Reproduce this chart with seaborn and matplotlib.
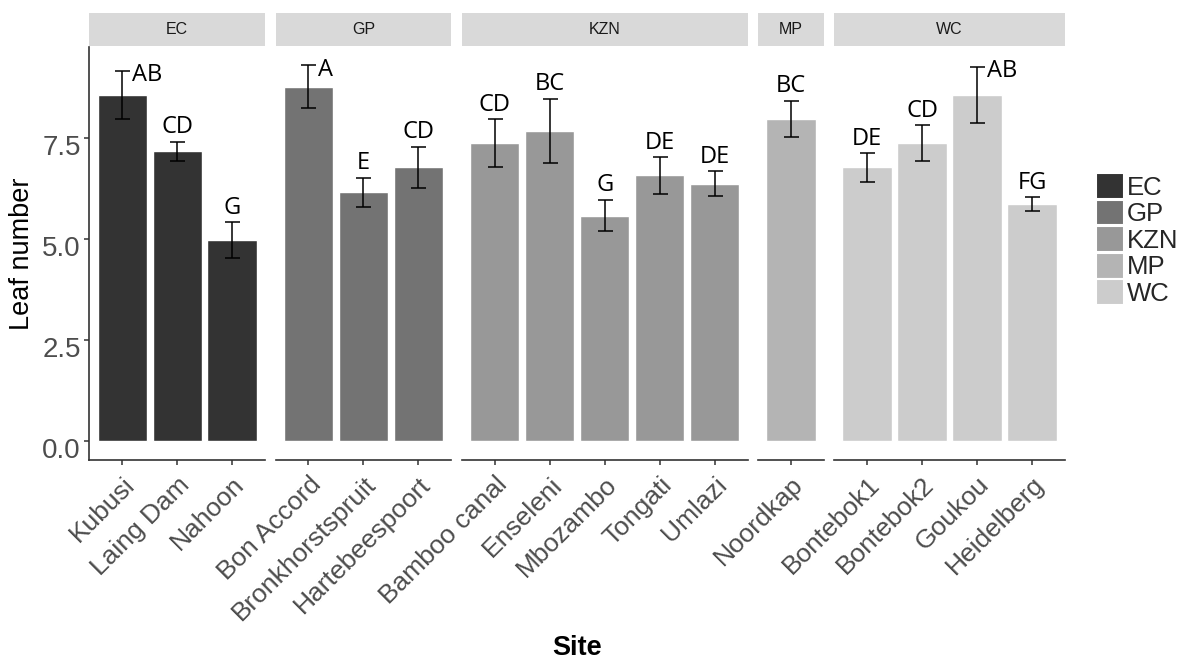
import numpy as np
import pandas as pd
import matplotlib
matplotlib.use("Agg")
import matplotlib.pyplot as plt
import matplotlib.transforms as mtransforms
from matplotlib.patches import Patch, Rectangle
import seaborn as sns

# ---- data -------------------------------------------------------------
regions = ["EC", "GP", "KZN", "MP", "WC"]
sites = ["Kubusi", "Laing Dam", "Nahoon",
         "Bon Accord", "Bronkhorstspruit", "Hartebeespoort",
         "Bamboo canal", "Enseleni", "Mbozambo", "Tongati", "Umlazi",
         "Noordkap",
         "Bontebok1", "Bontebok2", "Goukou", "Heidelberg"]
site_region = (["EC"] * 3 + ["GP"] * 3 + ["KZN"] * 5 + ["MP"] + ["WC"] * 4)
leaf_mean = [8.56, 7.17, 4.98,
             8.76, 6.16, 6.77,
             7.37, 7.67, 5.58, 6.57, 6.37,
             7.97,
             6.77, 7.37, 8.56, 5.87]
leaf_se = [0.60, 0.24, 0.44,
           0.53, 0.36, 0.51,
           0.60, 0.80, 0.39, 0.45, 0.30,
           0.45,
           0.36, 0.45, 0.70, 0.17]
letters = ["AB", "CD", "G",
           "A", "E", "CD",
           "CD", "BC", "G", "DE", "DE",
           "BC",
           "DE", "CD", "AB", "FG"]

df = pd.DataFrame({"site": sites, "region": site_region,
                   "leaf": leaf_mean, "se": leaf_se, "letter": letters})
df["upper"] = df["leaf"] + df["se"]

# grey fill scale (ggplot-style grey ramp, start 0.2 / end 0.8)
greys = ["#333333", "#737373", "#989898", "#B4B4B4", "#CCCCCC"]
pal = dict(zip(regions, greys))

# ---- style ------------------------------------------------------------
sns.set_style("white")
plt.rcParams["font.family"] = ["Liberation Sans", "DejaVu Sans"]
AX_COL = "#333333"
TICK_TXT = "#4D4D4D"

W, H = 1185, 661
fig = plt.figure(figsize=(W / 100, H / 100), dpi=100)

# panel geometry (pixels)
left_px, right_px = 89.3, 1065.0
top_px, bot_px = 46.7, 460.0
gap_px = 10.3
expand = 0.6
counts = [int((df["region"] == r).sum()) for r in regions]
units = [n - 1 + 2 * expand for n in counts]
unit_px = (right_px - left_px - gap_px * (len(regions) - 1)) / sum(units)

ymax = df["upper"].max()
lo, hi = -0.05 * ymax, ymax * 1.05
panel_h = bot_px - top_px
strip_h = 32.4 / panel_h
strip_gap = 1.0 / panel_h

x0 = left_px
for k, (reg, n, u) in enumerate(zip(regions, counts, units)):
    w = u * unit_px
    ax = fig.add_axes([x0 / W, 1 - bot_px / H, w / W, panel_h / H])
    x0 += w + gap_px
    sub = df[df["region"] == reg].reset_index(drop=True)

    sns.barplot(data=sub, x="site", y="leaf", color=pal[reg], saturation=1,
                width=0.9, errorbar=None, ax=ax)
    ax.errorbar(np.arange(n), sub["leaf"], yerr=sub["se"], fmt="none",
                ecolor="black", elinewidth=1.1, capsize=5.4, capthick=1.1,
                zorder=3)

    # significance letters: above the cap, or beside it when near the top
    for i, row in sub.iterrows():
        if row["upper"] > hi - 0.65:
            ax.annotate(row["letter"], (i, row["upper"]), xytext=(7.0, -7.5),
                        textcoords="offset points", ha="left", va="baseline",
                        fontsize=17, family="Open Sans", color="black",
                        annotation_clip=False)
        else:
            ax.annotate(row["letter"], (i, row["upper"]), xytext=(0, 6.0),
                        textcoords="offset points", ha="center",
                        va="baseline", fontsize=17, family="Open Sans",
                        color="black", annotation_clip=False)

    ax.set_xlim(-expand, n - 1 + expand)
    ax.set_ylim(lo, hi)
    ax.set_xlabel("")
    ax.set_ylabel("")
    ax.set_xticks(np.arange(n))
    ax.set_xticklabels(sub["site"], rotation=45, ha="right", va="top",
                       rotation_mode="anchor", fontsize=19, color=TICK_TXT)
    for s in ["top", "right"]:
        ax.spines[s].set_visible(False)
    ax.spines["bottom"].set_color(AX_COL)
    ax.spines["bottom"].set_linewidth(1.2)
    if k == 0:
        ax.spines["left"].set_color(AX_COL)
        ax.spines["left"].set_linewidth(1.2)
        ax.set_yticks([0, 2.5, 5, 7.5])
        ax.set_yticklabels(["0.0", "2.5", "5.0", "7.5"], fontsize=20,
                           color=TICK_TXT)
        ax.tick_params(axis="y", length=3.5, width=1.1, color=AX_COL, pad=2.5,
                       left=True)
        shift = mtransforms.ScaledTranslation(0, -5 / 72, fig.dpi_scale_trans)
        for lab in ax.get_yticklabels():
            lab.set_transform(lab.get_transform() + shift)
    else:
        ax.spines["left"].set_visible(False)
        ax.set_yticks([])
    ax.tick_params(axis="x", length=3.5, width=1.1, color=AX_COL, pad=5.5,
                   bottom=True)

    # facet strip
    ax.add_patch(Rectangle((0, 1.0 + strip_gap), 1, strip_h,
                           transform=ax.transAxes, facecolor="#D9D9D9",
                           edgecolor="none", clip_on=False))
    ax.text(0.5, 1.0 + strip_gap + strip_h / 2, reg,
            transform=ax.transAxes, ha="center", va="center", fontsize=11.5,
            color="#1A1A1A")

fig.text(22 / W, 1 - 253.4 / H, "Leaf number", rotation=90, ha="center",
         va="center", fontsize=19.5, color="black")
fig.text(577 / W, 1 - 648 / H, "Site", ha="center", va="center",
         fontsize=19.5, fontweight="bold", color="black")

handles = [Patch(facecolor=pal[r], edgecolor="white", linewidth=1.5)
           for r in regions]
fig.legend(handles, regions, loc="upper left",
           bbox_to_anchor=(1096 / W, 1 - 173 / H), frameon=False,
           fontsize=18.5, handlelength=1.1, handleheight=1.17,
           handletextpad=0.1, labelspacing=0.0, borderpad=0,
           borderaxespad=0)

fig.savefig("out.png", dpi=100)
